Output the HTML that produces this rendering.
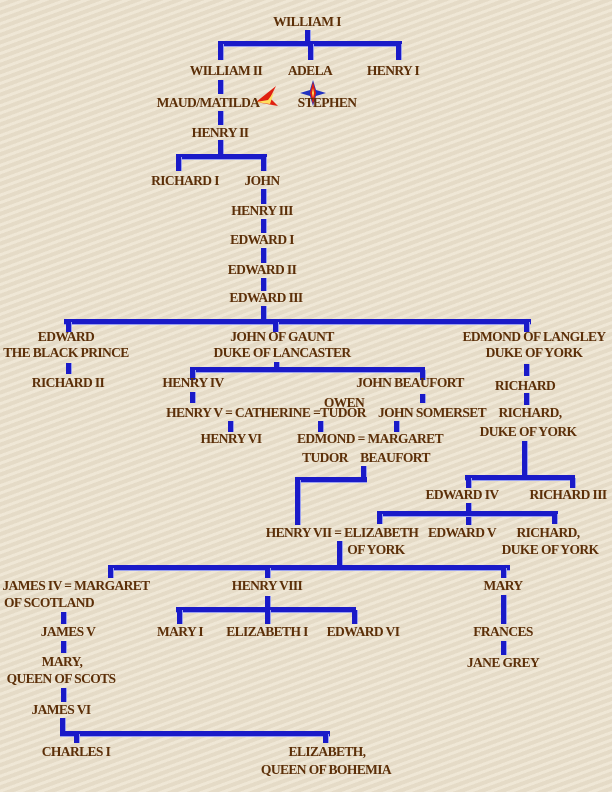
<!DOCTYPE html>
<html><head><meta charset="utf-8"><style>
body{margin:0;width:612px;height:792px;overflow:hidden;position:relative;
background:#ece2cd;background-image:repeating-linear-gradient(160deg,rgba(255,255,255,.18) 0 3px,rgba(0,0,0,.03) 3px 7px);}
.t{position:absolute;transform:translateX(-50%);white-space:nowrap;font-family:"Liberation Serif",serif;font-weight:bold;font-size:13.5px;letter-spacing:-0.6px;color:#5c2f08;line-height:14px;}
.l{position:absolute;background:#1a1ac8;}
.v{width:5px;border-right:1px solid #9aa0f0;}
.h{height:5px;border-bottom:1px solid #9aa0f0;}
</style></head><body>
<div class="l v" style="left:305px;top:30px;height:14px"></div>
<div class="l h" style="left:218px;top:41px;width:184px"></div>
<div class="l v" style="left:218px;top:44px;height:16px"></div>
<div class="l v" style="left:308px;top:44px;height:16px"></div>
<div class="l v" style="left:396px;top:44px;height:16px"></div>
<div class="l v" style="left:218px;top:80px;height:14px"></div>
<div class="l v" style="left:218px;top:111px;height:14px"></div>
<div class="l v" style="left:218px;top:140px;height:15px"></div>
<div class="l h" style="left:176px;top:154px;width:91px"></div>
<div class="l v" style="left:176px;top:157px;height:14px"></div>
<div class="l v" style="left:261px;top:157px;height:14px"></div>
<div class="l v" style="left:261px;top:189px;height:15px"></div>
<div class="l v" style="left:261px;top:219px;height:14px"></div>
<div class="l v" style="left:261px;top:248px;height:15px"></div>
<div class="l v" style="left:261px;top:278px;height:13px"></div>
<div class="l v" style="left:261px;top:306px;height:13px"></div>
<div class="l h" style="left:64px;top:319px;width:467px"></div>
<div class="l v" style="left:66px;top:322px;height:10px"></div>
<div class="l v" style="left:273px;top:322px;height:10px"></div>
<div class="l v" style="left:524px;top:322px;height:10px"></div>
<div class="l v" style="left:66px;top:363px;height:11px"></div>
<div class="l v" style="left:274px;top:362px;height:10px"></div>
<div class="l h" style="left:190px;top:367px;width:235px"></div>
<div class="l v" style="left:190px;top:370px;height:10px"></div>
<div class="l v" style="left:420px;top:370px;height:10px"></div>
<div class="l v" style="left:524px;top:364px;height:12px"></div>
<div class="l v" style="left:190px;top:392px;height:11px"></div>
<div class="l v" style="left:420px;top:394px;height:9px"></div>
<div class="l v" style="left:524px;top:393px;height:12px"></div>
<div class="l v" style="left:228px;top:421px;height:11px"></div>
<div class="l v" style="left:318px;top:421px;height:11px"></div>
<div class="l v" style="left:394px;top:421px;height:11px"></div>
<div class="l v" style="left:522px;top:441px;height:34px"></div>
<div class="l h" style="left:465px;top:475px;width:110px"></div>
<div class="l v" style="left:466px;top:478px;height:10px"></div>
<div class="l v" style="left:570px;top:478px;height:10px"></div>
<div class="l v" style="left:361px;top:466px;height:12px"></div>
<div class="l h" style="left:295px;top:477px;width:72px"></div>
<div class="l v" style="left:295px;top:480px;height:45px"></div>
<div class="l v" style="left:466px;top:503px;height:22px"></div>
<div class="l h" style="left:377px;top:511px;width:181px"></div>
<div class="l v" style="left:377px;top:514px;height:10px"></div>
<div class="l v" style="left:552px;top:514px;height:10px"></div>
<div class="l v" style="left:337px;top:541px;height:26px"></div>
<div class="l h" style="left:108px;top:565px;width:402px"></div>
<div class="l v" style="left:108px;top:568px;height:10px"></div>
<div class="l v" style="left:265px;top:568px;height:10px"></div>
<div class="l v" style="left:501px;top:568px;height:10px"></div>
<div class="l v" style="left:265px;top:596px;height:11px"></div>
<div class="l h" style="left:176px;top:607px;width:180px"></div>
<div class="l v" style="left:177px;top:610px;height:14px"></div>
<div class="l v" style="left:265px;top:610px;height:14px"></div>
<div class="l v" style="left:352px;top:610px;height:14px"></div>
<div class="l v" style="left:501px;top:595px;height:29px"></div>
<div class="l v" style="left:501px;top:641px;height:14px"></div>
<div class="l v" style="left:61px;top:612px;height:12px"></div>
<div class="l v" style="left:61px;top:641px;height:12px"></div>
<div class="l v" style="left:61px;top:688px;height:14px"></div>
<div class="l v" style="left:60px;top:718px;height:14px"></div>
<div class="l h" style="left:60px;top:731px;width:270px"></div>
<div class="l v" style="left:74px;top:734px;height:9px"></div>
<div class="l v" style="left:323px;top:734px;height:9px"></div>
<svg style="position:absolute;left:250px;top:84px" width="30" height="30"><polygon points="26,2 20,14 28,22 6,18" fill="#e02010"/><polygon points="24,8 18,16 6,18 20,20" fill="#ffe060"/></svg>
<svg style="position:absolute;left:300px;top:80px" width="26" height="26"><polygon points="13,0 16,10 26,13 16,16 13,26 10,16 0,13 10,10" fill="#2030c0"/><polygon points="13,2 16,13 13,24 10,13" fill="#e02010"/><polygon points="13,8 14,13 13,18 12,13" fill="#ffe060"/></svg>
<div class="t" style="left:307px;top:15px">WILLIAM I</div>
<div class="t" style="left:226px;top:64px">WILLIAM II</div>
<div class="t" style="left:310px;top:64px">ADELA</div>
<div class="t" style="left:393px;top:64px">HENRY I</div>
<div class="t" style="left:208px;top:96px">MAUD/MATILDA</div>
<div class="t" style="left:327px;top:96px">STEPHEN</div>
<div class="t" style="left:220px;top:126px">HENRY II</div>
<div class="t" style="left:185px;top:174px">RICHARD I</div>
<div class="t" style="left:262px;top:174px">JOHN</div>
<div class="t" style="left:262px;top:204px">HENRY III</div>
<div class="t" style="left:262px;top:233px">EDWARD I</div>
<div class="t" style="left:262px;top:263px">EDWARD II</div>
<div class="t" style="left:266px;top:291px">EDWARD III</div>
<div class="t" style="left:66px;top:330px">EDWARD</div>
<div class="t" style="left:66px;top:346px">THE BLACK PRINCE</div>
<div class="t" style="left:282px;top:330px">JOHN OF GAUNT</div>
<div class="t" style="left:282px;top:346px">DUKE OF LANCASTER</div>
<div class="t" style="left:534px;top:330px">EDMOND OF LANGLEY</div>
<div class="t" style="left:534px;top:346px">DUKE OF YORK</div>
<div class="t" style="left:68px;top:376px">RICHARD II</div>
<div class="t" style="left:193px;top:376px">HENRY IV</div>
<div class="t" style="left:410px;top:376px">JOHN BEAUFORT</div>
<div class="t" style="left:525px;top:379px">RICHARD</div>
<div class="t" style="left:344px;top:396px">OWEN</div>
<div class="t" style="left:266px;top:406px">HENRY V = CATHERINE =TUDOR</div>
<div class="t" style="left:432px;top:406px">JOHN SOMERSET</div>
<div class="t" style="left:530px;top:406px">RICHARD,</div>
<div class="t" style="left:528px;top:425px">DUKE OF YORK</div>
<div class="t" style="left:231px;top:432px">HENRY VI</div>
<div class="t" style="left:370px;top:432px">EDMOND = MARGARET</div>
<div class="t" style="left:325px;top:451px">TUDOR</div>
<div class="t" style="left:395px;top:451px">BEAUFORT</div>
<div class="t" style="left:462px;top:488px">EDWARD IV</div>
<div class="t" style="left:568px;top:488px">RICHARD III</div>
<div class="t" style="left:342px;top:526px">HENRY VII = ELIZABETH</div>
<div class="t" style="left:376px;top:543px">OF YORK</div>
<div class="t" style="left:462px;top:526px">EDWARD V</div>
<div class="t" style="left:548px;top:526px">RICHARD,</div>
<div class="t" style="left:550px;top:543px">DUKE OF YORK</div>
<div class="t" style="left:76px;top:579px">JAMES IV = MARGARET</div>
<div class="t" style="left:49px;top:596px">OF SCOTLAND</div>
<div class="t" style="left:267px;top:579px">HENRY VIII</div>
<div class="t" style="left:503px;top:579px">MARY</div>
<div class="t" style="left:68px;top:625px">JAMES V</div>
<div class="t" style="left:180px;top:625px">MARY I</div>
<div class="t" style="left:267px;top:625px">ELIZABETH I</div>
<div class="t" style="left:363px;top:625px">EDWARD VI</div>
<div class="t" style="left:503px;top:625px">FRANCES</div>
<div class="t" style="left:503px;top:656px">JANE GREY</div>
<div class="t" style="left:62px;top:655px">MARY,</div>
<div class="t" style="left:61px;top:672px">QUEEN OF SCOTS</div>
<div class="t" style="left:61px;top:703px">JAMES VI</div>
<div class="t" style="left:76px;top:745px">CHARLES I</div>
<div class="t" style="left:327px;top:745px">ELIZABETH,</div>
<div class="t" style="left:326px;top:763px">QUEEN OF BOHEMIA</div>
</body></html>
